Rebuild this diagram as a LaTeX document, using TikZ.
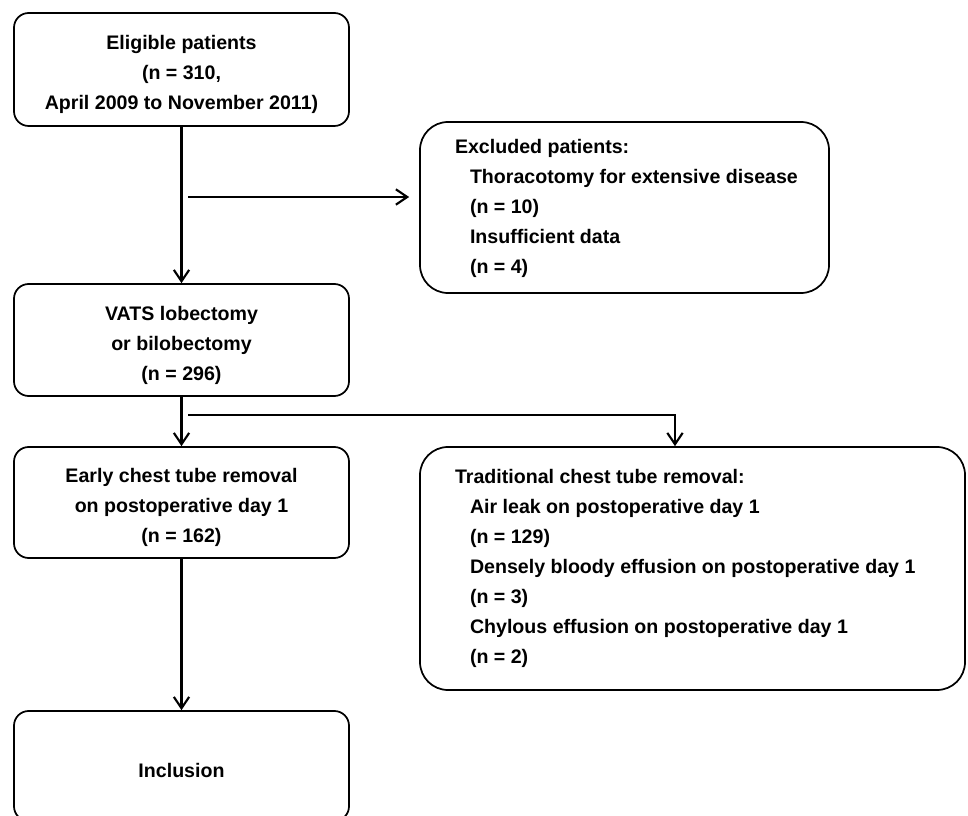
\documentclass[tikz,border=0pt]{standalone}
\usepackage{fontspec}
\setmainfont{Liberation Sans}
\usetikzlibrary{arrows.meta}
\begin{document}
\begin{tikzpicture}[x=0.75pt,y=-0.75pt,
  boxc/.style={draw, line width=1.3pt, rounded corners=11pt, inner sep=0pt},
  boxw/.style={draw, line width=1.3pt, rounded corners=21pt, inner sep=0pt},
  conn/.style={draw, line width=1.6pt, -{Straight Barb[length=8.5pt,width=11.5pt]}},
  every node/.style={font=\fontsize{14.7pt}{22.5pt}\selectfont\bfseries}]
\useasboundingbox (0,0) rectangle (968,816);
\clip (0,0) rectangle (968,816);

\node[boxc] (elig) at (181.5,69.5) {\parbox[c][84.75pt][c]{251.25pt}{\centering\vspace*{8pt}Eligible patients\\(n = 310,\\April 2009 to November 2011)}};
\node[boxw] (excl) at (624.5,207.5) {\parbox[c][128.25pt][c]{306.75pt}{\raggedright\leftskip=26.25pt\vspace*{2pt}Excluded patients:\\\hspace*{11.25pt}Thoracotomy for extensive disease\\\hspace*{11.25pt}(n = 10)\\\hspace*{11.25pt}Insufficient data\\\hspace*{11.25pt}(n = 4)}};
\node[boxc] (vats) at (181.5,340) {\parbox[c][84pt][c]{251.25pt}{\centering\vspace*{8pt}VATS lobectomy\\or bilobectomy\\(n = 296)}};
\node[boxc] (early) at (181.5,502.5) {\parbox[c][83.25pt][c]{251.25pt}{\centering\vspace*{8pt}Early chest tube removal\\on postoperative day 1\\(n = 162)}};
\node[boxw] (trad) at (692.5,568.5) {\parbox[c][182.25pt][c]{408.75pt}{\raggedright\leftskip=26.25pt Traditional chest tube removal:\\\hspace*{11.25pt}Air leak on postoperative day 1\\\hspace*{11.25pt}(n = 129)\\\hspace*{11.25pt}Densely bloody effusion on postoperative day 1\\\hspace*{11.25pt}(n = 3)\\\hspace*{11.25pt}Chylous effusion on postoperative day 1\\\hspace*{11.25pt}(n = 2)}};
\node[boxc] (incl) at (181.5,766) {\parbox[c][82.5pt][c]{251.25pt}{\centering\vspace*{7pt}Inclusion}};

\coordinate (b1) at (188,197);
\coordinate (b2) at (188,415);
\coordinate (t2) at (675,415);

\path[conn] (elig.south) -- (vats.north);
\path[conn, shorten >=7.5pt] (b1) -- (b1 -| excl.west);
\path[conn] (vats.south) -- (early.north);
\path[conn] (b2) -- (t2) -- (t2 |- trad.north);
\path[conn] (early.south) -- (incl.north);
\end{tikzpicture}
\end{document}
